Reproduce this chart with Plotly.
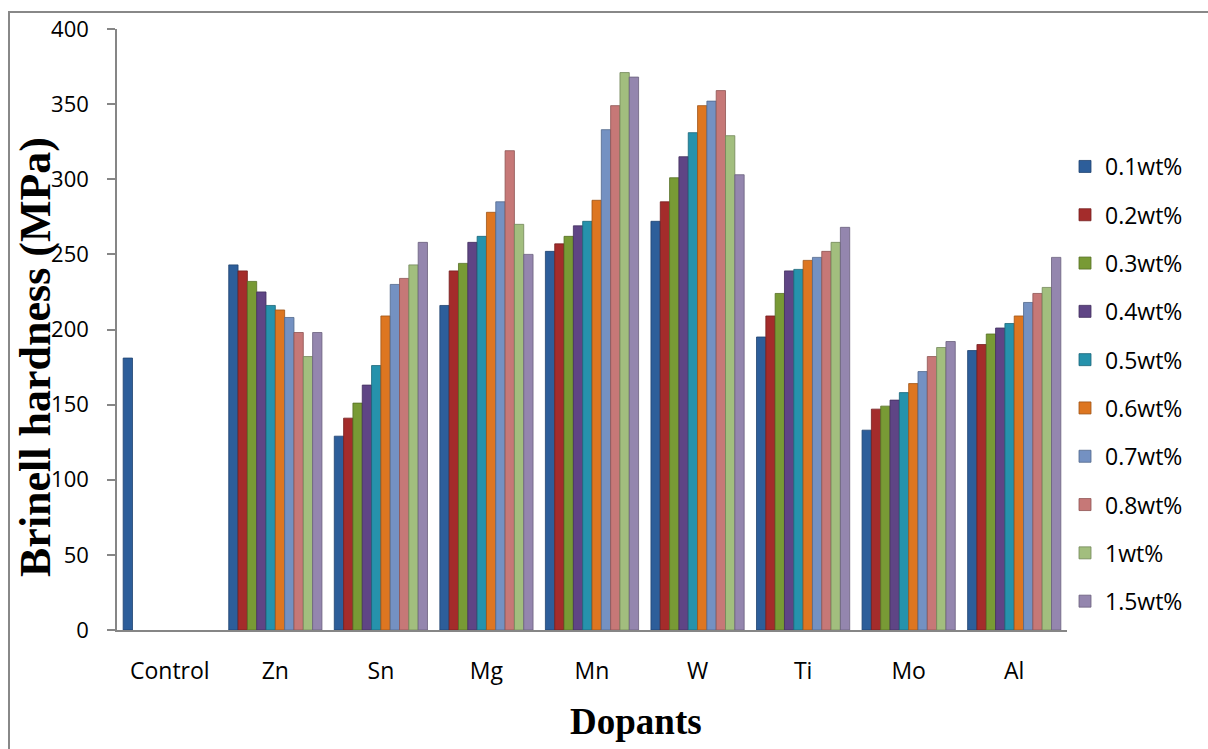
import plotly.graph_objects as go

categories = ["Control", "Zn", "Sn", "Mg", "Mn", "W", "Ti", "Mo", "Al"]
series_names = ["0.1wt%", "0.2wt%", "0.3wt%", "0.4wt%", "0.5wt%",
                "0.6wt%", "0.7wt%", "0.8wt%", "1wt%", "1.5wt%"]

wt_0_1 = [181, 243, 129, 216, 252, 272, 195, 133, 186]
wt_0_2 = [None, 239, 141, 239, 257, 285, 209, 147, 190]
wt_0_3 = [None, 232, 151, 244, 262, 301, 224, 149, 197]
wt_0_4 = [None, 225, 163, 258, 269, 315, 239, 153, 201]
wt_0_5 = [None, 216, 176, 262, 272, 331, 240, 158, 204]
wt_0_6 = [None, 213, 209, 278, 286, 349, 246, 164, 209]
wt_0_7 = [None, 208, 230, 285, 333, 352, 248, 172, 218]
wt_0_8 = [None, 198, 234, 319, 349, 359, 252, 182, 224]
wt_1_0 = [None, 182, 243, 270, 371, 329, 258, 188, 228]
wt_1_5 = [None, 198, 258, 250, 368, 303, 268, 192, 248]

series_values = [wt_0_1, wt_0_2, wt_0_3, wt_0_4, wt_0_5,
                 wt_0_6, wt_0_7, wt_0_8, wt_1_0, wt_1_5]

colors = ["#2D5E9A", "#A42C2B", "#789A35", "#5F4585", "#2692AC",
          "#DD7621", "#7491C2", "#C67877", "#A2BE7E", "#9486AE"]
edge_colors = ["#1F4270", "#741E1E", "#556E24", "#42305E", "#1A6679",
               "#9E5416", "#52688C", "#8E5453", "#728659", "#69607C"]

fig = go.Figure()
for name, vals, c, ec in zip(series_names, series_values, colors, edge_colors):
    fig.add_trace(go.Bar(
        x=categories, y=vals, name=name, legendgroup=name,
        marker=dict(color=c, line=dict(color=ec, width=0.8)),
    ))

W, H = 1208, 749
L, R, T, B = 117, 141, 29, 119
pw, ph = W - L - R, H - T - B

def px(x):
    return (x - L) / pw

def py(y):
    return (H - B - y) / ph

fig.update_layout(
    width=W, height=H,
    margin=dict(l=L, r=R, t=T, b=B, pad=0),
    paper_bgcolor="white", plot_bgcolor="white",
    barmode="group", bargap=0.117, bargroupgap=0,
    font=dict(family="Open Sans", size=22, color="black"),
    showlegend=True,
    legend=dict(
        x=px(1065), y=py(145), xanchor="left", yanchor="top",
        font=dict(family="Open Sans", size=23, color="black"),
        tracegroupgap=15.4, bgcolor="rgba(0,0,0,0)",
        itemwidth=30,
    ),
    xaxis=dict(
        showline=True, linecolor="#868686", linewidth=1.5,
        ticks="", showgrid=False, zeroline=False,
        tickfont=dict(family="Open Sans", size=23, color="black"),
        ticklabelstandoff=20,
    ),
    yaxis=dict(
        range=[0, 400], dtick=50, showline=True, linecolor="#868686",
        linewidth=1.5, ticks="outside", ticklen=8, tickcolor="#868686",
        tickwidth=1.5, showgrid=False, zeroline=False,
        tickfont=dict(family="Open Sans", size=22, color="black"),
        ticklabelstandoff=14,
    ),
    shapes=[dict(
        type="rect", xref="paper", yref="paper",
        x0=px(9), x1=px(1215), y0=py(760), y1=py(12),
        line=dict(color="#888888", width=2), fillcolor="rgba(0,0,0,0)",
        layer="below",
    )],
    annotations=[
        dict(text="<b>Brinell hardness (MPa)</b>", textangle=-90,
             xref="paper", yref="paper", x=px(35), y=py(357),
             xanchor="center", yanchor="middle", showarrow=False,
             font=dict(family="Liberation Serif", size=44, color="black")),
        dict(text="<b>Dopants</b>",
             xref="paper", yref="paper", x=px(636), y=py(721),
             xanchor="center", yanchor="middle", showarrow=False,
             font=dict(family="Liberation Serif", size=37, color="black")),
    ],
)

fig.write_html("out.html")
